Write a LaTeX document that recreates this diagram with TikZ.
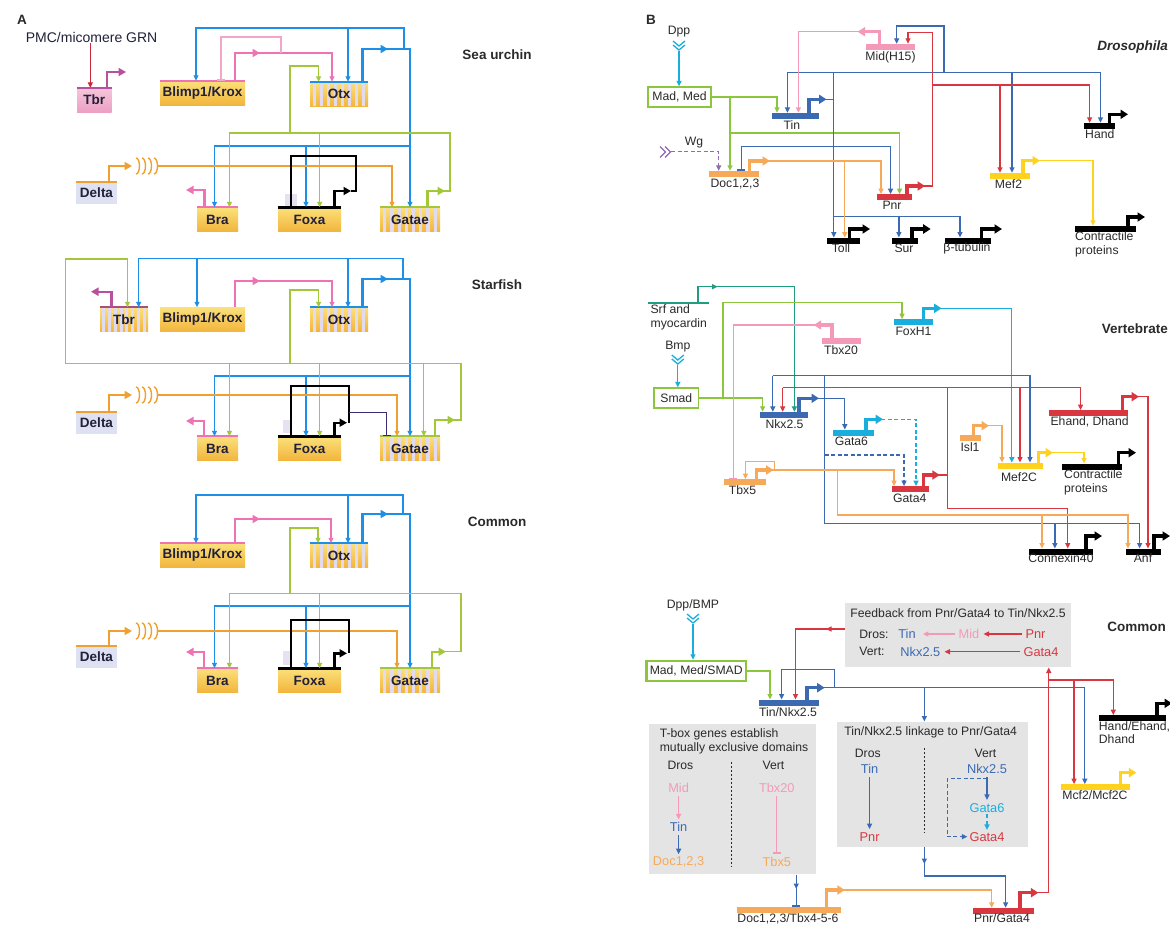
\documentclass[tikz,border=0pt]{standalone}
\usepackage{fontspec}
\setmainfont{Liberation Sans}
\usetikzlibrary{arrows.meta,calc}

% panel A palette
\definecolor{ablue}{HTML}{1E8FE6}
\definecolor{agreen}{HTML}{A2C83A}
\definecolor{apink}{HTML}{EE72B4}
\definecolor{apinkL}{HTML}{F2A6CC}
\definecolor{aorange}{HTML}{EFA030}
\definecolor{ared}{HTML}{C8283C}
\definecolor{amag}{HTML}{B8509E}
\definecolor{abrown}{HTML}{A8507A}
\definecolor{apurple}{HTML}{3A2C72}
\definecolor{boxtop}{HTML}{FBE07A}
\definecolor{boxbot}{HTML}{F2B53C}
\definecolor{tbrtop}{HTML}{F6C6DA}
\definecolor{tbrbot}{HTML}{EBA0C4}
\definecolor{stripecol}{HTML}{E2DAEE}
\definecolor{deltabg}{HTML}{DDE1F1}
\definecolor{ink}{HTML}{20203A}
% panel B palette
\definecolor{bblue}{HTML}{3B6AB3}
\definecolor{bcyan}{HTML}{1AAEDC}
\definecolor{bgreen}{HTML}{8CC63F}
\definecolor{bpink}{HTML}{F49AB8}
\definecolor{bred}{HTML}{D9373F}
\definecolor{borange}{HTML}{F7A95A}
\definecolor{byellow}{HTML}{FFD21E}
\definecolor{bpurple}{HTML}{8E6CB0}
\definecolor{bteal}{HTML}{1E9E7E}
\definecolor{panelgrey}{HTML}{E4E4E4}
\definecolor{btext}{HTML}{2A2A2A}

\newcommand{\genefont}{\bfseries\fontsize{13.5}{15}\selectfont}
\newcommand{\lblfont}{\fontsize{12.2}{13.5}\selectfont}
\newcommand{\inlblfont}{\fontsize{12.8}{14}\selectfont}
\newcommand{\headfont}{\bfseries\fontsize{13.5}{15}\selectfont}

% four signalling arcs after a Delta output
\newcommand{\sigarcs}[1]{\foreach \i in {0,1,2,3}{\draw[aorange,line width=1.4pt] ({136+6*\i},{#1-8}) arc[start angle=90,end angle=-90,x radius=3.5pt,y radius=8pt];}}
% downward double chevron (ligand)
\newcommand{\chevdown}[3]{\draw[#3,line width=1.3pt] ({#1-6},{#2}) -- ({#1},{#2+5}) -- ({#1+6},{#2}); \draw[#3,line width=1.3pt] ({#1-6},{#2+4}) -- ({#1},{#2+9}) -- ({#1+6},{#2+4});}

\tikzset{
  arr/.style={line width=1.3pt,-{Triangle[length=5.5pt,width=5pt]}},
  darr/.style={line width=1.3pt,dash pattern=on 4pt off 2.5pt,-{Triangle[length=5.5pt,width=5pt]}},
  inh/.style={line width=1.3pt,-{Bar[width=8pt,line width=1.6pt]}},
  aout/.style={draw=#1,line width=2.4pt,-{Triangle[length=7.5pt,width=8pt]}},
  bout/.style={draw=#1,line width=3.2pt,-{Triangle[length=7.5pt,width=9pt]}},
  abox/.style={rectangle,inner sep=0pt,minimum height=24pt,top color=boxtop,bottom color=boxbot,font=\genefont,text=ink},
  stripes/.style={path picture={
    \foreach \f in {0.08,0.2,0.32,0.44,0.56,0.68,0.8,0.92}{
      \fill[stripecol] ($(path picture bounding box.south west)!\f!(path picture bounding box.south east)+(-1.6pt,0pt)$) rectangle ($(path picture bounding box.north west)!\f!(path picture bounding box.north east)+(1.6pt,0pt)$);
    }}},
  deltabox/.style={rectangle,inner sep=0pt,minimum width=41pt,minimum height=22pt,fill=deltabg,font=\genefont,text=ink},
  bbar/.style={rectangle,inner sep=0pt,minimum height=6pt,fill=#1},
  blab/.style={font=\lblfont,inner sep=0pt,text=btext},
  ilab/.style={font=\inlblfont,inner sep=0pt,text=#1},
  head/.style={font=\headfont,inner sep=0pt,text=btext},
  greybox/.style={rectangle,fill=panelgrey,inner sep=0pt},
  ligbox/.style={rectangle,draw=bgreen,line width=1.3pt,inner sep=0pt,minimum height=20pt,font=\lblfont,text=btext},
}

\begin{document}
\begin{tikzpicture}[x=1pt,y=-1pt]
\fill[white] (0,0) rectangle (1170,924);
\useasboundingbox (0,0) rectangle (1170,924);

%================ PANEL A : sea urchin =================
\node[head] (labA) at (22,20) {A};
\node[font=\fontsize{14}{16}\selectfont,text=ink,inner sep=1pt] (pmc) at (91.6,37) {PMC/micomere GRN};
\node[abox,minimum width=34.5pt,top color=tbrtop,bottom color=tbrbot] (tbrS) at (94.3,100) {Tbr};
\node[abox,minimum width=85pt] (blimpS) at (202.5,93) {Blimp1/Krox};
\node[abox,stripes,minimum width=58pt] (otxS) at (339,94) {Otx};
\node[abox,minimum width=41pt] (braS) at (217.5,219.5) {Bra};
\node[abox,minimum width=63pt] (foxaS) at (309.5,219.5) {Foxa};
\node[abox,stripes,minimum width=60pt] (gataeS) at (410,219.5) {Gatae};
\node[deltabox] (deltaS) at (96.5,193) {Delta};
\node[head] (seaurchin) at (497,55) {Sea urchin};

\draw[amag,line width=2pt] (tbrS.north west) -- (tbrS.north east);
\draw[apink,line width=2pt] (blimpS.north west) -- (blimpS.north east);
\draw[ablue,line width=2.2pt] (otxS.north west) -- (otxS.north east);
\draw[apink,line width=2pt] (braS.north west) -- (braS.north east);
\draw[black,line width=3pt] (foxaS.north west) -- (foxaS.north east);
\draw[agreen,line width=2.2pt] (gataeS.north west) -- (gataeS.north east);
\draw[aorange,line width=2pt] (deltaS.north west) -- (deltaS.north east);
\fill[stripecol,opacity=0.8] (285,194) rectangle (297,206);

\draw[arr,ared] (90.3,0 |- pmc.south) -- (90.3,0 |- tbrS.north);
\draw[aout=amag] (107,0 |- tbrS.north) |- (126,72);
% blue (Otx)
\draw[aout=ablue] (362.5,0 |- otxS.north) |- (388,49);
\draw[arr,ablue] (386,49) -| (410,0 |- gataeS.north);
\draw[arr,ablue] (404,49) |- (196,28) -- (196,0 |- blimpS.north);
\draw[arr,ablue] (348,28) -- (348,0 |- otxS.north);
\draw[arr,ablue] (410,146) -| (214.5,0 |- braS.north);
\draw[arr,ablue] (306,146) -- (306,0 |- foxaS.north);
% pink (Blimp1/Krox)
\draw[aout=apink] (235,0 |- blimpS.north) |- (260,53);
\draw[arr,apink] (258,53) -| (332,0 |- otxS.north);
\draw[inh,apinkL] (281,53) |- (221,37) -- (221,0 |- blimpS.north);
% green (Gatae)
\draw[aout=agreen] (427.5,0 |- gataeS.north) |- (445,191);
\draw[arr,agreen] (443,191) -| (450,133) -| (229.4,0 |- braS.north);
\draw[arr,agreen] (319.7,133) -- (319.7,0 |- foxaS.north);
\draw[arr,agreen] (290,133) |- (318.6,66) -- (318.6,0 |- otxS.north);
% orange (Delta)
\draw[aout=aorange] (109,0 |- deltaS.north) |- (132,166);
\sigarcs{166}
\draw[arr,aorange] (157,166) -| (392,0 |- gataeS.north);
% black (Foxa)
\draw[aout=black] (334.6,0 |- foxaS.north) |- (351,191);
\draw[inh,black,line width=1.9pt] (351,191) -- (356,191) |- (291,156) -- (291,0 |- foxaS.north);
\draw[aout=apink] (204.5,0 |- braS.north) |- (186,190);

%================ PANEL A : starfish =================
\node[abox,stripes,minimum width=48pt] (tbrF) at (124,319.5) {Tbr};
\node[abox,minimum width=85pt] (blimpF) at (202.5,319.5) {Blimp1/Krox};
\node[abox,stripes,minimum width=58pt] (otxF) at (339,319.5) {Otx};
\node[abox,minimum width=41pt] (braF) at (217.5,448.5) {Bra};
\node[abox,minimum width=63pt] (foxaF) at (309.5,448.5) {Foxa};
\node[abox,stripes,minimum width=60pt] (gataeF) at (410,448.5) {Gatae};
\node[deltabox] (deltaF) at (96.5,423) {Delta};
\node[head] (starfish) at (497,285) {Starfish};

\draw[abrown,line width=2pt] (tbrF.north west) -- (tbrF.north east);
\draw[ablue,line width=2.2pt] (otxF.north west) -- (otxF.north east);
\draw[apink,line width=2pt] (braF.north west) -- (braF.north east);
\draw[black,line width=3pt] (foxaF.north west) -- (foxaF.north east);
\draw[agreen,line width=2.2pt] (gataeF.north west) -- (gataeF.north east);
\draw[aorange,line width=2pt] (deltaF.north west) -- (deltaF.north east);
\fill[stripecol,opacity=0.8] (283,420) rectangle (291,433);

\draw[aout=ablue] (362.5,0 |- otxF.north) |- (388,279);
\draw[arr,ablue] (386,279) -| (410,0 |- gataeF.north);
\draw[arr,ablue] (403,279) |- (138.7,258.3) -- (138.7,0 |- tbrF.north);
\draw[arr,ablue] (197,258.3) -- (197,0 |- blimpF.north);
\draw[arr,ablue] (348,258.3) -- (348,0 |- otxF.north);
\draw[arr,ablue] (410,376) -| (214.5,0 |- braF.north);
\draw[arr,ablue] (306,376) -- (306,0 |- foxaF.north);
\draw[aout=agreen] (435,0 |- gataeF.north) |- (455,420);
\draw[arr,agreen] (453,420) -| (461,363.3) -- (65.8,363.3) |- (127.5,259) -- (127.5,0 |- tbrF.north);
\draw[arr,agreen] (229.4,363.3) -- (229.4,0 |- braF.north);
\draw[arr,agreen] (319.7,363.3) -- (319.7,0 |- foxaF.north);
\draw[arr,agreen] (423.8,363.3) -- (423.8,0 |- gataeF.north);
\draw[arr,agreen] (290,363.3) |- (318.6,290) -- (318.6,0 |- otxF.north);
\draw[aout=apink] (235,0 |- blimpF.north) |- (260,281);
\draw[arr,apink] (258,281) -| (332,0 |- otxF.north);
\draw[aout=amag] (111.5,0 |- tbrF.north) |- (91,291.7);
\draw[aout=aorange] (109,0 |- deltaF.north) |- (132,395);
\sigarcs{395}
\draw[arr,aorange] (157,395) -| (397,0 |- gataeF.north);
\draw[aout=black] (334.6,0 |- foxaF.north) |- (347,422.7);
\draw[inh,black,line width=1.9pt] (349.4,422.7) |- (291,385.7) -- (291,0 |- foxaF.north);
\draw[inh,apurple,line width=1.6pt] (349.4,412.3) -| (386.6,0 |- gataeF.north);
\draw[aout=apink] (203.7,0 |- braF.north) |- (186,421);

%================ PANEL A : common =================
\node[abox,minimum width=85pt] (blimpC) at (202.5,555.5) {Blimp1/Krox};
\node[abox,stripes,minimum width=58pt] (otxC) at (339,555.5) {Otx};
\node[abox,minimum width=41pt] (braC) at (217.5,680.5) {Bra};
\node[abox,minimum width=63pt] (foxaC) at (309.5,680.5) {Foxa};
\node[abox,stripes,minimum width=60pt] (gataeC) at (410,680.5) {Gatae};
\node[deltabox] (deltaC) at (96.5,657) {Delta};
\node[head] (commonA) at (497,522) {Common};

\draw[apink,line width=2pt] (blimpC.north west) -- (blimpC.north east);
\draw[ablue,line width=2.2pt] (otxC.north west) -- (otxC.north east);
\draw[apink,line width=2pt] (braC.north west) -- (braC.north east);
\draw[black,line width=3pt] (foxaC.north west) -- (foxaC.north east);
\draw[agreen,line width=2.2pt] (gataeC.north west) -- (gataeC.north east);
\draw[aorange,line width=2pt] (deltaC.north west) -- (deltaC.north east);
\fill[stripecol,opacity=0.8] (283,651) rectangle (291,665);

\draw[aout=ablue] (362.5,0 |- otxC.north) |- (388,514);
\draw[arr,ablue] (386,514) -| (410,0 |- gataeC.north);
\draw[arr,ablue] (403,514) |- (196,495) -- (196,0 |- blimpC.north);
\draw[arr,ablue] (348,495) -- (348,0 |- otxC.north);
\draw[arr,ablue] (410,606) -| (214.5,0 |- braC.north);
\draw[arr,ablue] (306,606) -- (306,0 |- foxaC.north);
\draw[aout=apink] (235,0 |- blimpC.north) |- (260,519);
\draw[arr,apink] (258,519) -| (331,0 |- otxC.north);
\draw[aout=agreen] (432,0 |- gataeC.north) |- (446,651.7);
\draw[arr,agreen] (444,651.7) -| (461,593.3) -| (229.4,0 |- braC.north);
\draw[arr,agreen] (319.7,593.3) -- (319.7,0 |- foxaC.north);
\draw[arr,agreen] (290,593.3) |- (318,528) -- (318,0 |- otxC.north);
\draw[aout=aorange] (109,0 |- deltaC.north) |- (132,631);
\sigarcs{631}
\draw[arr,aorange] (157,631) -| (397,0 |- gataeC.north);
\draw[aout=black] (334.6,0 |- foxaC.north) |- (347,653.3);
\draw[inh,black,line width=1.9pt] (349.4,653.3) |- (291,620) -- (291,0 |- foxaC.north);
\draw[aout=apink] (203.7,0 |- braC.north) |- (186,652);

%================ PANEL B : Drosophila =================
\node[head] (labB) at (651,20) {B};
\node[head,font=\bfseries\itshape\fontsize{13.5}{15}\selectfont,anchor=east] (dros) at (1168,46.7) {Drosophila};
\node[blab] (dpp) at (679,32) {Dpp};
\chevdown{679}{41}{bcyan}
\node[ligbox,minimum width=63pt] (madmed) at (679.5,97) {Mad, Med};
\draw[arr,bcyan] (679,51) -- (679,0 |- madmed.north);

\node[bbar=bblue,minimum width=47.3pt] (tin) at (795.4,116) {};
\node[blab] (tinL) at (791.8,125.5) {Tin};
\node[bbar=bpink,minimum width=49.4pt] (mid) at (890.3,47) {};
\node[blab] (midL) at (890.5,57.5) {Mid(H15)};
\node[bbar=black,minimum width=31pt] (hand) at (1099.5,126) {};
\node[blab] (handL) at (1099.8,134.5) {Hand};
\node[bbar=borange,minimum width=50pt] (doc) at (734,174) {};
\node[blab] (docL) at (735,184.5) {Doc1,2,3};
\node[bbar=bred,minimum width=35.8pt] (pnr) at (894.5,197.3) {};
\node[blab] (pnrL) at (892,205.5) {Pnr};
\node[bbar=byellow,minimum width=40.4pt] (mef2) at (1010.2,176) {};
\node[blab] (mef2L) at (1008.5,184.5) {Mef2};
\node[bbar=black,minimum width=61pt] (contrD) at (1105.5,229) {};
\node[blab,align=left,anchor=north west] (contrDL) at (1075,231.5) {Contractile\\proteins};
\node[bbar=black,minimum width=33pt] (toll) at (843,240.7) {};
\node[blab] (tollL) at (841,248.5) {Toll};
\node[bbar=black,minimum width=26.3pt] (sur) at (904.7,240.7) {};
\node[blab] (surL) at (904,248.5) {Sur};
\node[bbar=black,minimum width=46pt] (btub) at (968,240.7) {};
\node[blab] (btubL) at (967,248.5) {β-tubulin};

\draw[arr,bgreen] (madmed.east) -| (777,0 |- tin.north);
\draw[arr,bgreen] (730,0 |- madmed.east) -- (730,0 |- doc.north);
\draw[arr,bgreen] (730,133) -| (899.6,0 |- pnr.north);
\draw[bout=bblue] (809,0 |- tin.north) |- (826.5,99.3);
\draw[bblue,line width=1.3pt] (824,99.3) -- (833.8,99.3);
\draw[arr,bblue] (833.8,72.7) -- (833.8,0 |- toll.north);
\draw[arr,bblue] (833.8,216.7) -| (960,0 |- btub.north);
\draw[arr,bblue] (898.9,216.7) -- (898.9,0 |- sur.north);
\draw[arr,bblue] (787.4,72.7) -- (787.4,0 |- tin.north);
\draw[arr,bblue] (787.4,72.7) -| (1100.5,0 |- hand.north);
\draw[arr,bblue] (1012,72.7) -- (1012,0 |- mef2.north);
\draw[arr,bblue] (944,72.7) |- (896.7,26) -- (896.7,0 |- mid.north);
\draw[arr,bblue] (741.4,146.7) -| (890.5,0 |- pnr.north);
\draw[inh,bblue] (741.4,146.7) -- (741.4,0 |- doc.north);
\draw[bout=bpink] (879.5,0 |- mid.north) |- (857.6,31.7);
\draw[arr,bpink] (859,31.7) -| (798.4,0 |- tin.north);
\draw[bout=bred] (907,0 |- pnr.north) |- (925,186);
\draw[arr,bred] (923,186) -| (932.5,32.3) -| (908,0 |- mid.north);
\draw[arr,bred] (932.5,85) -| (1089.6,0 |- hand.north);
\draw[arr,bred] (1000,85) -- (1000,0 |- mef2.north);
\node[blab] (wg) at (694,142.7) {Wg};
\draw[bpurple,line width=1.3pt] (660,146.5) -- (665.5,152) -- (660,157.5);
\draw[bpurple,line width=1.3pt] (665,146.5) -- (670.5,152) -- (665,157.5);
\draw[darr,bpurple] (671,151.7) -| (718.7,0 |- doc.north);
\draw[bout=borange] (749.8,0 |- doc.north) |- (770,161);
\draw[arr,borange] (768,161) -| (881,0 |- pnr.north);
\draw[arr,borange] (844.8,161) -- (844.8,0 |- toll.north);
\draw[bout=black] (1109.7,0 |- hand.north) |- (1128,114.3);
\draw[bout=byellow] (1023,0 |- mef2.north) |- (1040,160.7);
\draw[arr,byellow] (1038,160.7) -| (1093,0 |- contrD.north);
\draw[bout=black] (1128,0 |- contrD.north) |- (1145,217);
\draw[bout=black] (849.5,0 |- toll.north) |- (870,229);
\draw[bout=black] (912,0 |- sur.north) |- (930.7,229);
\draw[bout=black] (981.8,0 |- btub.north) |- (1002,229);

%================ PANEL B : vertebrate =================
\node[head,anchor=east] (vert) at (1168,328.3) {Vertebrate};
\node[bbar=bteal,minimum height=1.8pt,minimum width=61pt] (srf) at (678,302.7) {};
\node[blab,align=left,anchor=north west] (srfL) at (650.4,304.5) {Srf and\\myocardin};
\node[blab] (bmp) at (677.8,346.7) {Bmp};
\chevdown{677.8}{355}{bcyan}
\node[ligbox,minimum width=44.6pt] (smad) at (676.3,398) {Smad};
\draw[arr,bcyan] (677.8,365) -- (677.8,0 |- smad.north);

\node[bbar=bblue,minimum width=48pt] (nkx) at (784,415) {};
\node[blab] (nkxL) at (784.5,424.5) {Nkx2.5};
\node[bbar=bpink,minimum width=39.4pt] (tbx20) at (841.5,340.7) {};
\node[blab] (tbx20L) at (841,350) {Tbx20};
\node[bbar=bcyan,minimum width=38.5pt] (foxh1) at (913.3,322.3) {};
\node[blab] (foxh1L) at (913.5,331.7) {FoxH1};
\node[bbar=bcyan,minimum width=41pt] (gata6) at (853.5,432.7) {};
\node[blab] (gata6L) at (851.4,441) {Gata6};
\node[bbar=borange,minimum width=21pt] (isl1) at (970.5,438.3) {};
\node[blab] (isl1L) at (970,447) {Isl1};
\node[bbar=byellow,minimum width=45pt] (mef2c) at (1020.5,465.7) {};
\node[blab] (mef2cL) at (1019,477) {Mef2C};
\node[bbar=bred,minimum width=78.6pt] (ehand) at (1088.7,413.3) {};
\node[blab] (ehandL) at (1089.6,422) {Ehand, Dhand};
\node[bbar=black,minimum width=60.5pt] (contrV) at (1092,466.7) {};
\node[blab,align=left,anchor=north west] (contrVL) at (1064,469.5) {Contractile\\proteins};
\node[bbar=borange,minimum width=42pt] (tbx5) at (745,482.3) {};
\node[blab] (tbx5L) at (742.5,490.5) {Tbx5};
\node[bbar=bred,minimum width=36.5pt] (gata4) at (910.5,489.3) {};
\node[blab] (gata4L) at (909.8,498.5) {Gata4};
\node[bbar=black,minimum width=64pt] (cx40) at (1061,551.7) {};
\node[blab] (cx40L) at (1061,558.5) {Connexin40};
\node[bbar=black,minimum width=35pt] (anf) at (1143.5,551.7) {};
\node[blab] (anfL) at (1143,558.5) {Anf};

\draw[arr,bteal] (698,0 |- srf.north) |- (717.6,286.7);
\draw[arr,bteal] (716,286.7) -| (794.4,0 |- nkx.north);
\draw[arr,bgreen] (smad.east) -| (762.6,0 |- nkx.north);
\draw[arr,bgreen] (723,0 |- smad.east) |- (902,302.7) -- (902,0 |- foxh1.north);
\draw[bout=bpink] (832,0 |- tbx20.north) |- (813.7,325);
\draw[inh,bpink] (815,325) -| (733.4,0 |- tbx5.north);
\draw[bout=bcyan] (923.3,0 |- foxh1.north) |- (941.6,308.3);
\draw[arr,bcyan] (940,308.3) -| (1011.8,0 |- mef2c.north);
\draw[bout=bblue] (799,0 |- nkx.north) |- (819,398.3);
\draw[arr,bblue] (817,398.3) -| (844.8,0 |- gata6.north);
\draw[arr,bblue] (772.8,375.7) -- (772.8,0 |- nkx.north);
\draw[arr,bblue] (772.8,375.7) -| (1030,0 |- mef2c.north);
\draw[arr,bblue] (824.7,375.7) |- (1139.6,523.3) -- (1139.6,0 |- anf.north);
\draw[arr,bblue] (1054.9,523.3) -- (1054.9,0 |- cx40.north);
\draw[darr,bblue] (824.7,455) -| (904,0 |- gata4.north);
\draw[bout=bred] (923.3,0 |- gata4.north) |- (939.8,475);
\draw[bred,line width=1.3pt] (938,475) -- (947.8,475);
\draw[arr,bred] (947.8,387.7) |- (1067.7,508.3) -- (1067.7,0 |- cx40.north);
\draw[arr,bred] (782.7,387.7) -- (782.7,0 |- nkx.north);
\draw[arr,bred] (782.7,387.7) -| (1080.5,0 |- ehand.north);
\draw[arr,bred] (1020,387.7) -- (1020,0 |- mef2c.north);
\draw[bout=bred] (1122.5,0 |- ehand.north) |- (1139,396.7);
\draw[arr,bred] (1137,396.7) -| (1148,0 |- anf.north);
\draw[bout=bcyan] (866,0 |- gata6.north) |- (883,419.3);
\draw[darr,bcyan] (881,419.3) -| (916,0 |- gata4.north);
\draw[bout=borange] (973.4,0 |- isl1.north) |- (989,425.7);
\draw[arr,borange] (987,425.7) -| (1002,0 |- mef2c.north);
\draw[bout=byellow] (1038.4,0 |- mef2c.north) |- (1053,452.7);
\draw[arr,byellow] (1051,452.7) -| (1084,0 |- contrV.north);
\draw[bout=black] (1118.8,0 |- contrV.north) |- (1136,452.7);
\draw[bout=borange] (756.4,0 |- tbx5.north) |- (773.5,470);
\draw[arr,borange] (772,470) -| (894,0 |- gata4.north);
\draw[arr,borange] (774.6,470) |- (745.4,461.7) -- (745.4,0 |- tbx5.north);
\draw[arr,borange] (837.5,470) |- (1128,515) -- (1128,0 |- anf.north);
\draw[arr,borange] (1042,515) -- (1042,0 |- cx40.north);
\draw[bout=black] (1086,0 |- cx40.north) |- (1102,536);
\draw[bout=black] (1154,0 |- anf.north) |- (1170,536);

%================ PANEL B : common =================
\node[head,anchor=east] (commonB) at (1166,626.7) {Common};
\node[blab] (dppbmp) at (693,605) {Dpp/BMP};
\chevdown{693}{614}{bcyan}
\node[ligbox,line width=2.4pt,minimum width=99.6pt] (madsmad) at (696.2,671) {Mad, Med/SMAD};
\draw[arr,bcyan] (693,624) -- (693,0 |- madsmad.north);

\node[bbar=bblue,minimum width=59.5pt] (tinnkx) at (788.75,702.7) {};
\node[blab] (tinnkxL) at (788,712.5) {Tin/Nkx2.5};
\node[bbar=borange,minimum width=104pt] (docT) at (789,910) {};
\node[blab] (docTL) at (788,918.5) {Doc1,2,3/Tbx4-5-6};
\node[bbar=bred,minimum width=61.3pt] (pnrG) at (1003.35,911) {};
\node[blab] (pnrGL) at (1002,918.5) {Pnr/Gata4};
\node[bbar=black,minimum width=67.3pt] (hand2) at (1132.35,718.3) {};
\node[blab,align=left,anchor=north west] (hand2L) at (1098.7,721) {Hand/Ehand,\\Dhand};
\node[bbar=byellow,minimum width=68.8pt] (mcf2) at (1095.4,787.3) {};
\node[blab] (mcf2L) at (1095,795.5) {Mcf2/Mcf2C};

% feedback panel
\node[greybox,minimum width=226.5pt,minimum height=64.6pt] (fbbox) at (958,635) {};
\node[blab] (fbT) at (958,613.3) {Feedback from Pnr/Gata4 to Tin/Nkx2.5};
\node[blab] (fDros) at (874,634) {Dros:};
\node[ilab=bblue] (fTin) at (907,634) {Tin};
\node[ilab=bpink] (fMid) at (969,634) {Mid};
\node[ilab=bred] (fPnr) at (1035.5,634) {Pnr};
\node[blab] (fVert) at (872,651.7) {Vert:};
\node[ilab=bblue] (fNkx) at (920.4,651.7) {Nkx2.5};
\node[ilab=bred] (fGata4) at (1041,651.7) {Gata4};
\draw[arr,bpink] ([xshift=-3pt]fMid.west) -- ([xshift=7pt]fTin.east);
\draw[arr,bred] ([xshift=-3pt]fPnr.west) -- ([xshift=4pt]fMid.east);
\draw[arr,bred] ([xshift=-3pt]fGata4.west) -- ([xshift=4pt]fNkx.east);

% linkage panel
\node[greybox,minimum width=190.7pt,minimum height=125pt] (linkbox) at (932.15,784.2) {};
\node[blab] (lT) at (930.6,732.7) {Tin/Nkx2.5 linkage to Pnr/Gata4};
\node[blab] (lDros) at (867.8,753.3) {Dros};
\node[blab] (lVert) at (985.5,753.3) {Vert};
\draw[btext,line width=0.9pt,dash pattern=on 2pt off 2pt] (924.4,748) -- (924.4,833);
\node[ilab=bblue] (lTin) at (869.6,769.3) {Tin};
\node[ilab=bred] (lPnr) at (869.6,836.7) {Pnr};
\draw[arr,bblue] ([yshift=-3pt]lTin.south) -- ([yshift=3pt]lPnr.north);
\node[ilab=bblue] (lNkx) at (987,769.3) {Nkx2.5};
\node[ilab=bcyan] (lGata6) at (987,807.7) {Gata6};
\node[ilab=bred] (lGata4) at (987,836.7) {Gata4};
\draw[arr,bblue] ([yshift=-3pt]lNkx.south) -- ([yshift=3pt]lGata6.north);
\draw[darr,bcyan] ([yshift=-2pt]lGata6.south) -- ([yshift=2pt]lGata4.north);
\draw[darr,bblue] ([yshift=-4pt]lNkx.south) -| ([xshift=-22pt]lGata4.west) -- ([xshift=-2pt]lGata4.west);

% T-box panel
\node[greybox,minimum width=166.3pt,minimum height=150.3pt] (tbox) at (732.45,799.15) {};
\node[blab,align=left,anchor=north west] (tT) at (659.6,728.5) {T-box genes establish\\mutually exclusive domains};
\node[blab] (tDros) at (680.4,765.7) {Dros};
\node[blab] (tVert) at (773.5,765.7) {Vert};
\draw[btext,line width=0.9pt,dash pattern=on 2pt off 2pt] (731.5,761.7) -- (731.5,866);
\node[ilab=bpink] (tMid) at (678.6,787.7) {Mid};
\node[ilab=bblue] (tTin) at (678.6,827.3) {Tin};
\node[ilab=borange] (tDoc) at (678.6,861.7) {Doc1,2,3};
\draw[arr,bpink] ([yshift=-3pt]tMid.south) -- ([yshift=3pt]tTin.north);
\draw[arr,bblue] ([yshift=-3pt]tTin.south) -- ([yshift=2pt]tDoc.north);
\node[ilab=bpink] (tTbx20) at (776.8,787.7) {Tbx20};
\node[ilab=borange] (tTbx5) at (776.8,861.7) {Tbx5};
\draw[inh,bpink] ([yshift=-3pt]tTbx20.south) -- ([yshift=3pt]tTbx5.north);

% common connectors
\draw[arr,bgreen] (madsmad.east) -| (770,0 |- tinnkx.north);
\draw[arr,bred] (fbbox.west |- 0,629) -| (795.5,0 |- tinnkx.north);
\draw[arr,bred] (840,629) -- (826,629);
\draw[bout=bblue] (807,0 |- tinnkx.north) |- (824.7,687.7);
\draw[arr,bblue] (823,687.7) -| (1084.8,0 |- mcf2.north);
\draw[arr,bblue] (924.4,687.7) -- (924.4,0 |- linkbox.north);
\draw[arr,bblue] (834.6,687.7) |- (781.6,669.3) -- (781.6,0 |- tinnkx.north);
\draw[inh,bblue] (796.2,0 |- tbox.south) -- (796.2,0 |- docT.north);
\draw[arr,bblue] (796.2,877) -- (796.2,889);
\draw[bout=borange] (826.5,0 |- docT.north) |- (844.8,890);
\draw[arr,borange] (843,890) -| (991.7,0 |- pnrG.north);
\draw[arr,bblue] (924.4,0 |- linkbox.south) |- (1005.6,876) -- (1005.6,0 |- pnrG.north);
\draw[arr,bblue] (924.4,852) -- (924.4,864);
\draw[bout=bred] (1020,0 |- pnrG.north) |- (1038.4,892.7);
\draw[arr,bred] (1036,892.7) -| (1048.7,0 |- fbbox.south);
\draw[arr,bred] (1048.7,680) -| (1113.3,0 |- hand2.north);
\draw[arr,bred] (1074,680) -- (1074,0 |- mcf2.north);
\draw[bout=black] (1157,0 |- hand2.north) |- (1172,703.3);
\draw[bout=byellow] (1120.6,0 |- mcf2.north) |- (1136.4,772.7);
\end{tikzpicture}
\end{document}
